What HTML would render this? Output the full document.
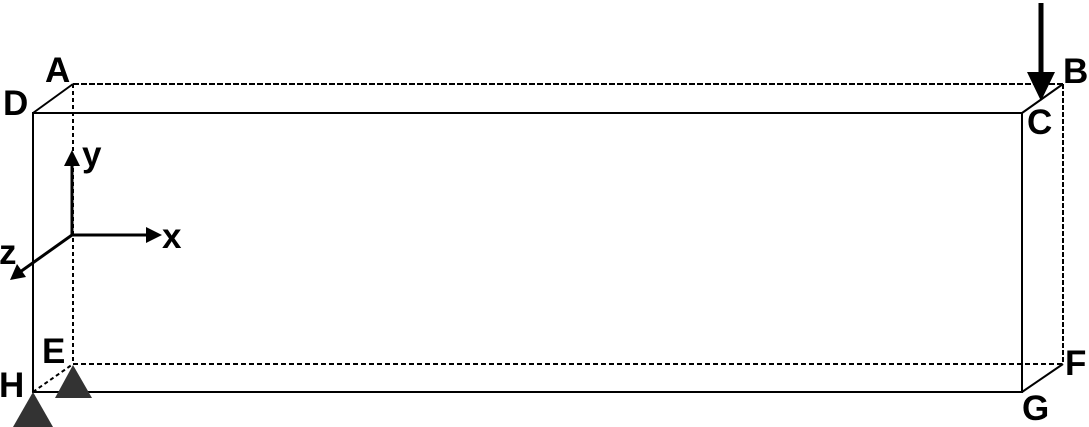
<!DOCTYPE html>
<html><head><style>
html,body{margin:0;padding:0;background:#fff;width:1089px;height:427px;overflow:hidden}
text{font-family:"Liberation Sans",Arial,sans-serif;font-weight:bold;font-size:35px;fill:#000}
</style></head><body>
<svg width="1089" height="427" viewBox="0 0 1089 427" xmlns="http://www.w3.org/2000/svg">
<g stroke="#000" stroke-width="2" fill="none">
<line x1="73" y1="84" x2="1063" y2="84" stroke-dasharray="6,2"/>
<line x1="1063" y1="84" x2="1063" y2="364" stroke-dasharray="5,2"/>
<line x1="73" y1="84" x2="73" y2="364" stroke-dasharray="4,3"/>
<line x1="73" y1="364" x2="1063" y2="364" stroke-dasharray="5,3"/>
<line x1="33" y1="392" x2="73" y2="364" stroke-dasharray="4,3"/>
<line x1="33" y1="113" x2="73" y2="84"/>
<line x1="1022" y1="113" x2="1063" y2="84"/>
<line x1="1022" y1="392" x2="1063" y2="364"/>
<rect x="33" y="113" width="989" height="279"/>
<line x1="72" y1="235" x2="72" y2="160" stroke-width="3"/>
<line x1="72" y1="235" x2="150" y2="235" stroke-width="3"/>
<line x1="72" y1="235" x2="20" y2="272" stroke-width="3"/>
<line x1="1041" y1="3" x2="1041" y2="75" stroke-width="5"/>
</g>
<g fill="#000">
<polygon points="72,150 64,166 80,166"/>
<polygon points="162,235 146,227 146,243"/>
<polygon points="10,280 17,264 26,277"/>
<polygon points="1041,101 1027,72 1055,72"/>
</g>
<g fill="#333">
<polygon points="33,392 13,427 53,427"/>
<polygon points="73,365 55,398 92,398"/>
</g>
<text x="45" y="82">A</text>
<text x="3" y="115">D</text>
<text x="1063" y="83">B</text>
<text x="1027" y="134">C</text>
<text x="82" y="166">y</text>
<text x="162" y="248">x</text>
<text x="-1" y="264">z</text>
<text x="42" y="363">E</text>
<text x="-1" y="397">H</text>
<text x="1065" y="375">F</text>
<text x="1022" y="420">G</text>
</svg>
</body></html>
